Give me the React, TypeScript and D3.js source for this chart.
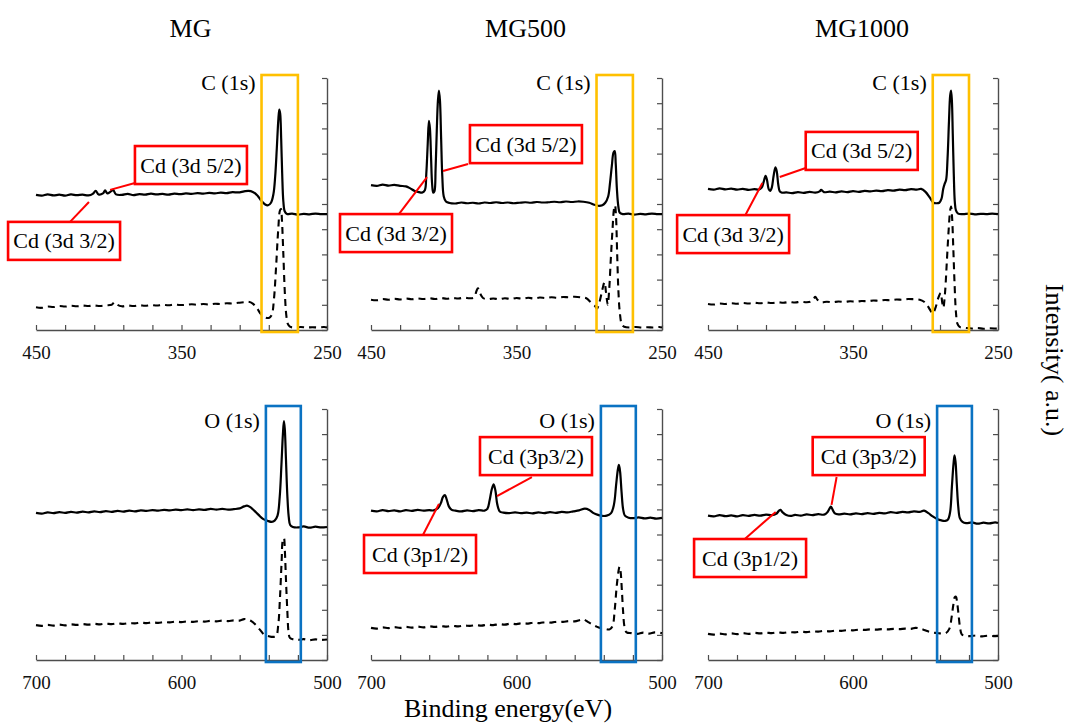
import React, { useEffect, useRef } from 'react'
import * as d3 from 'd3'

// sample names (column titles)
const samples = ['MG', 'MG500', 'MG1000']

// tick labels
const cTicks = [450, 350, 250]
const oTicks = [700, 600, 500]

// highlighted windows (eV)
const cWindow = [295, 270]
const oWindow = [542, 518]

// C 1s region spectra [binding energy, intensity a.u.]
const mgC = [[450,5.36],[446,5.33],[442,5.38],[438,5.34],[434,5.37],[430,5.33],[426,5.38],[422,5.35],[418,5.37],[414,5.34],[411,5.4],[409,5.52],[407,5.38],[404,5.42],[402.5,5.54],[401,5.42],[398.5,5.5],[397,5.56],[395,5.38],[391,5.36],[387,5.4],[383,5.35],[379,5.39],[375,5.37],[371,5.41],[367,5.38],[363,5.4],[359,5.37],[355,5.41],[351,5.39],[347,5.42],[343,5.4],[339,5.43],[335,5.41],[331,5.44],[327,5.42],[323,5.45],[319,5.43],[315,5.47],[311,5.46],[307,5.5],[304,5.52],[301,5.48],[298,5.35],[295,5.12],[292.5,4.98],[290.5,4.95],[288.5,5.05],[286.8,5.4],[285.6,6.1],[284.5,7.2],[283.5,8.3],[282.8,8.75],[282.2,8.6],[281.5,7.6],[280.8,6.2],[280,5.1],[279,4.7],[277.5,4.6],[274,4.62],[270,4.58],[266,4.61],[262,4.59],[258,4.62],[254,4.6],[250,4.6]]
const mgCRef = [[450,0.9],[446,0.88],[442,0.93],[438,0.91],[434,0.95],[430,0.93],[426,0.96],[422,0.94],[418,0.97],[414,0.95],[410,0.97],[406,0.95],[402,0.98],[398,1.0],[396,1.1],[394,1.0],[391,0.94],[387,0.97],[383,0.95],[379,0.98],[375,0.96],[371,0.99],[367,0.97],[363,1.0],[359,0.98],[355,1.01],[351,0.99],[347,1.0],[343,1.02],[339,1.0],[335,1.03],[331,1.01],[327,1.04],[323,1.03],[319,1.06],[315,1.05],[311,1.08],[307,1.1],[304,1.12],[301,1.05],[298,0.85],[295,0.6],[292.5,0.5],[290,0.48],[288,0.6],[286.5,1.2],[285,2.5],[283.5,4.0],[282.3,4.75],[281.6,4.8],[281,4.4],[280,3.0],[279,1.5],[278,0.6],[277,0.25],[275.5,0.13],[272,0.1],[268,0.12],[264,0.1],[260,0.11],[256,0.1],[252,0.12],[250,0.1]]

const mg500C = [[450,5.75],[446,5.72],[442,5.77],[438,5.73],[434,5.76],[430,5.72],[426,5.7],[423,5.62],[420,5.52],[417,5.47],[415,5.45],[413,5.55],[412,6.2],[411,7.4],[410.2,8.3],[409.5,8.0],[408.7,6.8],[408,5.8],[407.2,5.45],[406.4,5.5],[405.6,6.4],[404.8,7.9],[404,9.1],[403.3,9.5],[402.6,9.1],[401.8,7.6],[401,6.1],[400,5.3],[398.5,5.1],[396,5.04],[392,5.02],[388,5.06],[384,5.03],[380,5.05],[376,5.02],[372,5.06],[368,5.04],[364,5.07],[360,5.04],[356,5.06],[352,5.03],[348,5.05],[344,5.07],[340,5.05],[336,5.08],[332,5.06],[328,5.07],[324,5.09],[320,5.07],[316,5.1],[312,5.08],[308,5.1],[304,5.09],[300,5.05],[297,4.98],[294,4.93],[291,4.95],[289,5.05],[287,5.3],[285.8,5.8],[284.5,6.5],[283.3,7.05],[282.5,7.1],[281.8,6.6],[281,5.6],[280,4.9],[279,4.65],[277,4.6],[273,4.62],[269,4.58],[265,4.61],[261,4.59],[257,4.62],[253,4.6],[250,4.6]]
const mg500CRef = [[450,1.2],[446,1.18],[442,1.23],[438,1.2],[434,1.24],[430,1.21],[426,1.25],[422,1.22],[418,1.25],[414,1.23],[410,1.26],[406,1.23],[402,1.27],[398,1.24],[394,1.27],[390,1.25],[386,1.28],[382,1.26],[379,1.3],[377.5,1.55],[376.5,1.65],[375,1.45],[373,1.27],[370,1.22],[366,1.25],[362,1.22],[358,1.26],[354,1.23],[350,1.27],[346,1.24],[342,1.28],[338,1.25],[334,1.29],[330,1.27],[326,1.3],[322,1.28],[318,1.31],[314,1.3],[310,1.32],[306,1.3],[302,1.26],[299,1.1],[296,0.95],[294.7,0.85],[293,1.1],[291,1.6],[289.5,1.9],[288.5,1.5],[287.3,1.0],[286.3,1.6],[285.2,2.8],[284,4.0],[283,4.8],[282.3,4.95],[281.6,4.5],[280.8,3.0],[280,1.6],[279,0.7],[277.5,0.2],[276,0.13],[272,0.1],[268,0.12],[264,0.1],[260,0.11],[256,0.1],[252,0.12],[250,0.1]]

const mg1000C = [[450,5.6],[446,5.57],[442,5.62],[438,5.58],[434,5.61],[430,5.57],[426,5.6],[422,5.56],[418,5.59],[415,5.57],[413,5.65],[411.5,5.9],[410.3,6.12],[409.3,5.95],[408.2,5.6],[407.2,5.52],[406,5.65],[404.8,6.1],[403.5,6.45],[402.6,6.3],[401.6,5.8],[400.5,5.5],[399,5.45],[396,5.46],[392,5.43],[388,5.47],[384,5.44],[380,5.48],[376,5.45],[373,5.5],[372,5.56],[370,5.47],[366,5.49],[362,5.46],[358,5.5],[354,5.47],[350,5.51],[346,5.48],[342,5.52],[338,5.5],[334,5.53],[330,5.51],[326,5.55],[322,5.53],[318,5.57],[314,5.55],[310,5.59],[306,5.57],[303,5.6],[300,5.48],[297,5.25],[294.5,5.05],[292.5,5.03],[290.5,5.05],[289,5.2],[287.8,5.6],[286.8,5.8],[285.8,5.95],[284.8,6.8],[283.8,8.3],[283,9.3],[282.4,9.5],[281.8,9.1],[281.2,7.8],[280.5,6.2],[279.8,5.1],[279,4.75],[277.5,4.62],[274,4.6],[270,4.62],[266,4.59],[262,4.61],[258,4.6],[254,4.62],[250,4.6]]
const mg1000CRef = [[450,1.03],[446,1.01],[442,1.05],[438,1.03],[434,1.06],[430,1.04],[426,1.07],[422,1.05],[418,1.08],[414,1.06],[410,1.09],[406,1.07],[402,1.1],[398,1.08],[394,1.11],[390,1.09],[386,1.12],[382,1.1],[379,1.13],[377,1.25],[376,1.32],[374.5,1.2],[372,1.1],[368,1.12],[364,1.1],[360,1.13],[356,1.11],[352,1.14],[348,1.12],[344,1.15],[340,1.14],[336,1.17],[332,1.16],[328,1.19],[324,1.18],[320,1.21],[316,1.2],[312,1.23],[308,1.22],[304,1.2],[301,1.12],[298.5,0.95],[296,0.72],[295,0.65],[293,0.9],[291,1.3],[289.5,1.47],[288.5,1.1],[287.7,0.88],[286.5,1.5],[285.3,2.7],[284,4.0],[283,4.75],[282.4,4.9],[281.7,4.5],[280.8,3.2],[280,1.9],[279,0.7],[278,0.25],[276.5,0.12],[272,0.08],[268,0.06],[264,0.08],[260,0.05],[256,0.07],[252,0.06],[250,0.05]]

// O 1s region spectra
const mgO = [[700,5.86],[696,5.83],[692,5.88],[688,5.85],[684,5.89],[680,5.86],[676,5.9],[672,5.87],[668,5.91],[664,5.88],[660,5.92],[656,5.89],[652,5.93],[648,5.9],[644,5.94],[640,5.91],[636,5.95],[632,5.92],[628,5.96],[624,5.94],[620,5.97],[616,5.95],[612,5.98],[608,5.96],[604,5.99],[600,5.97],[596,6.0],[592,5.97],[588,6.0],[584,5.98],[580,6.02],[576,5.99],[572,6.02],[568,5.99],[564,6.01],[560,6.04],[557,6.12],[555,6.15],[553,6.1],[550,5.95],[547,5.78],[544,5.62],[541,5.55],[538,5.5],[536,5.55],[534,5.75],[532.5,6.5],[531.3,7.8],[530.3,9.0],[529.6,9.52],[529,9.2],[528.2,8.0],[527.3,6.6],[526.3,5.7],[525.3,5.38],[523.5,5.3],[520,5.28],[516,5.32],[512,5.27],[508,5.31],[504,5.28],[500,5.3]]
const mgORef = [[700,1.39],[696,1.36],[692,1.4],[688,1.37],[684,1.41],[680,1.38],[676,1.42],[672,1.4],[668,1.43],[664,1.41],[660,1.44],[656,1.42],[652,1.45],[648,1.43],[644,1.46],[640,1.44],[636,1.47],[632,1.46],[628,1.49],[624,1.47],[620,1.5],[616,1.48],[612,1.51],[608,1.5],[604,1.53],[600,1.51],[596,1.54],[592,1.52],[588,1.55],[584,1.53],[580,1.56],[576,1.54],[572,1.57],[568,1.55],[564,1.58],[560,1.57],[557,1.63],[555,1.62],[552,1.55],[549,1.4],[546,1.2],[543,1.0],[540,0.95],[537.5,0.92],[535,0.95],[533.5,1.4],[532.3,2.5],[531.2,3.9],[530.3,4.8],[529.6,4.85],[529,4.4],[528.2,3.2],[527.3,2.0],[526.4,1.1],[525.5,0.88],[523,0.82],[520,0.8],[516,0.83],[512,0.79],[508,0.82],[504,0.8],[500,0.82]]

const mg500O = [[700,5.95],[696,5.92],[692,5.97],[688,5.93],[684,5.96],[680,5.92],[676,5.97],[672,5.94],[668,5.98],[664,5.95],[660,5.97],[657,5.96],[654,6.05],[652,6.25],[650.5,6.5],[649.2,6.57],[648,6.4],[646.5,6.12],[644.5,5.98],[642,5.95],[638,5.92],[634,5.96],[630,5.93],[626,5.97],[622,5.95],[620,6.02],[618.5,6.35],[617,6.8],[615.7,7.0],[614.5,6.75],[613.2,6.2],[611.5,5.92],[609,5.87],[605,5.85],[601,5.88],[597,5.85],[593,5.87],[589,5.84],[585,5.88],[581,5.85],[577,5.89],[573,5.86],[569,5.9],[565,5.88],[561,5.92],[557,5.96],[553,6.03],[550,5.98],[547,5.85],[544,5.78],[541,5.74],[538,5.75],[535,5.85],[533,6.2],[531.5,7.0],[530.3,7.6],[529.6,7.77],[528.8,7.5],[527.8,6.7],[526.7,6.0],[525.5,5.75],[523,5.67],[520,5.65],[516,5.68],[512,5.64],[508,5.67],[504,5.63],[500,5.66]]
const mg500ORef = [[700,1.28],[696,1.25],[692,1.3],[688,1.27],[684,1.31],[680,1.28],[676,1.32],[672,1.29],[668,1.33],[664,1.3],[660,1.34],[656,1.32],[652,1.35],[648,1.33],[644,1.36],[640,1.34],[636,1.37],[632,1.36],[628,1.39],[624,1.37],[620,1.41],[616,1.39],[612,1.43],[608,1.41],[604,1.45],[600,1.43],[596,1.47],[592,1.45],[588,1.49],[584,1.47],[580,1.51],[576,1.49],[572,1.53],[568,1.52],[564,1.55],[560,1.54],[556,1.6],[554,1.62],[551,1.52],[548,1.42],[545,1.33],[542,1.27],[539,1.24],[536,1.22],[534,1.35],[532.5,2.0],[531.2,2.9],[530,3.5],[529.2,3.72],[528.5,3.55],[527.6,2.8],[526.7,1.9],[525.7,1.3],[524.3,1.1],[521,1.07],[517,1.04],[513,1.09],[509,1.05],[505,1.1],[500,1.07]]

const mg1000O = [[700,5.75],[696,5.72],[692,5.77],[688,5.73],[684,5.76],[680,5.72],[676,5.77],[672,5.74],[668,5.78],[664,5.75],[660,5.79],[656,5.77],[653,5.82],[651,5.95],[650,5.98],[648.5,5.88],[646,5.78],[643,5.74],[640,5.78],[636,5.75],[632,5.8],[628,5.77],[624,5.81],[620,5.79],[617.5,5.9],[616,6.05],[615.2,6.11],[614,5.98],[612.5,5.84],[610,5.8],[606,5.83],[602,5.8],[598,5.84],[594,5.81],[590,5.85],[586,5.82],[582,5.86],[578,5.84],[574,5.89],[570,5.86],[566,5.9],[562,5.88],[558,5.92],[554,5.9],[551,5.95],[548,5.85],[545,5.72],[542,5.62],[539,5.56],[536.5,5.54],[534.5,5.6],[533,5.9],[531.8,6.9],[530.7,7.8],[530,8.15],[529.3,7.9],[528.4,7.0],[527.4,6.1],[526.3,5.65],[524.5,5.5],[522,5.45],[518,5.48],[514,5.43],[510,5.47],[506,5.44],[502,5.48],[500,5.46]]
const mg1000ORef = [[700,1.04],[696,1.01],[692,1.05],[688,1.02],[684,1.06],[680,1.03],[676,1.07],[672,1.04],[668,1.08],[664,1.06],[660,1.09],[656,1.07],[652,1.1],[648,1.08],[644,1.11],[640,1.1],[636,1.13],[632,1.11],[628,1.14],[624,1.13],[620,1.16],[616,1.14],[612,1.17],[608,1.16],[604,1.19],[600,1.18],[596,1.21],[592,1.2],[588,1.22],[584,1.21],[580,1.23],[576,1.22],[572,1.24],[568,1.23],[564,1.25],[560,1.24],[557,1.28],[555,1.27],[551,1.2],[547,1.12],[543,1.08],[540,1.06],[536,1.07],[533.5,1.25],[532,1.7],[530.8,2.2],[529.8,2.5],[529,2.52],[528.2,2.3],[527.2,1.8],[526.2,1.3],[525,1.02],[523,0.97],[519,0.95],[515,0.98],[511,0.94],[507,0.97],[503,0.95],[500,0.96]]

// peak labels: box corner, leader start, leader end in [eV, intensity]
const cNotes = [
  [
    { text: 'Cd (3d 5/2)', box: [382, 7.3], from: [382, 5.83], to: [399.1, 5.56] },
    { text: 'Cd (3d 3/2)', box: [469.2, 4.29], from: [426.6, 4.29], to: [413.6, 5.08] },
  ],
  [
    { text: 'Cd (3d 5/2)', box: [382, 8.13], from: [383.3, 6.59], to: [400.5, 6.31] },
    { text: 'Cd (3d 3/2)', box: [471.3, 4.6], from: [430.8, 4.6], to: [411.5, 6.07] },
  ],
  [
    { text: 'Cd (3d 5/2)', box: [382.6, 7.86], from: [382.6, 6.43], to: [400.5, 6.07] },
    { text: 'Cd (3d 3/2)', box: [471.3, 4.56], from: [424.2, 4.56], to: [412.5, 5.83] },
  ],
]
const oNotes = [
  [],
  [
    { text: 'Cd (3p3/2)', box: [625.1, 8.88], from: [589.4, 7.29], to: [613.4, 6.53] },
    { text: 'Cd (3p1/2)', box: [704.8, 4.98], from: [664.3, 4.98], to: [653.3, 6.22] },
  ],
  [
    { text: 'Cd (3p3/2)', box: [627.8, 8.88], from: [611.3, 7.29], to: [614.8, 6.18] },
    { text: 'Cd (3p1/2)', box: [709.6, 4.82], from: [674.6, 4.82], to: [653.3, 5.9] },
  ],
]

const cSolid = [mgC, mg500C, mg1000C]
const cDash = [mgCRef, mg500CRef, mg1000CRef]
const oSolid = [mgO, mg500O, mg1000O]
const oDash = [mgORef, mg500ORef, mg1000ORef]

const FONT = "'Liberation Serif', 'Times New Roman', serif"

export default function App() {
  const svgRef = useRef(null)

  useEffect(() => {
    drawChart()
  }, [])

  const drawChart = () => {
    const svg = d3.select(svgRef.current)
    svg.selectAll('*').remove()
    svg.attr('width', 1068).attr('height', 724)

    const colX = [36, 371, 708]
    const colW = [291, 291, 290]

    const rows = [
      { top: 78, h: 252, domain: [450, 250], ticks: cTicks, win: cWindow, color: '#FFC000', label: 'C (1s)', solid: cSolid, dash: cDash, notes: cNotes },
      { top: 409, h: 251, domain: [700, 500], ticks: oTicks, win: oWindow, color: '#0A72C2', label: 'O (1s)', solid: oSolid, dash: oDash, notes: oNotes },
    ]

    //column titles
    samples.forEach((s, i) => {
      svg.append('text')
        .attr('x', colX[i] + colW[i] / 2 + 9).attr('y', 37)
        .attr('text-anchor', 'middle')
        .attr('font-family', FONT).attr('font-size', 26)
        .text(s)
    })

    rows.forEach(row => {
      samples.forEach((s, i) => {
        const g = svg.append('g').attr('transform', `translate(${colX[i]},${row.top})`)
        const x = d3.scaleLinear().domain(row.domain).range([0, colW[i]])
        const y = d3.scaleLinear().domain([0, 10]).range([row.h, 0])

        // bottom axis, ticks pointing up
        const xAxis = g.append('g').attr('transform', `translate(0,${row.h})`)
          .call(d3.axisBottom(x)
            .tickValues(d3.range(row.domain[0], row.domain[1] - 1, -20))
            .tickSizeInner(-5).tickSizeOuter(0).tickPadding(16)
            .tickFormat(d => row.ticks.includes(d) ? String(d) : ''))
        // right axis, ticks pointing left
        const yAxis = g.append('g').attr('transform', `translate(${colW[i]},0)`)
          .call(d3.axisRight(y).tickValues(d3.range(0, 11)).tickSizeInner(-5).tickSizeOuter(0).tickFormat(() => ''))

        ;[xAxis, yAxis].forEach(a => {
          a.select('.domain').attr('stroke', '#4d4d4d').attr('stroke-width', 1.4)
          a.selectAll('.tick line').attr('stroke', '#4d4d4d').attr('stroke-width', 1.2)
          a.selectAll('.tick text').attr('font-family', FONT).attr('font-size', 19).attr('fill', '#111')
        })

        const line = d3.line().x(d => x(d[0])).y(d => y(d[1])).curve(d3.curveCatmullRom.alpha(0.5))

        g.append('path').datum(row.dash[i])
          .attr('fill', 'none').attr('stroke', '#000').attr('stroke-width', 2.1)
          .attr('stroke-dasharray', '7,5').attr('d', line)
        g.append('path').datum(row.solid[i])
          .attr('fill', 'none').attr('stroke', '#000').attr('stroke-width', 2.2)
          .attr('d', line)

        // highlighted window
        g.append('rect')
          .attr('x', x(row.win[0])).attr('y', -3)
          .attr('width', x(row.win[1]) - x(row.win[0])).attr('height', row.h + 5)
          .attr('fill', 'none').attr('stroke', row.color).attr('stroke-width', 2.6)

        g.append('text')
          .attr('x', x(row.win[0]) - 6).attr('y', row === rows[0] ? 12 : 19)
          .attr('text-anchor', 'end')
          .attr('font-family', FONT).attr('font-size', 22)
          .text(row.label)

        // peak annotations
        row.notes[i].forEach(n => {
          g.append('line')
            .attr('x1', x(n.from[0])).attr('y1', y(n.from[1]))
            .attr('x2', x(n.to[0])).attr('y2', y(n.to[1]))
            .attr('stroke', '#FF0000').attr('stroke-width', 2)
          g.append('rect')
            .attr('x', x(n.box[0])).attr('y', y(n.box[1]))
            .attr('width', 112).attr('height', 38)
            .attr('fill', '#fff').attr('stroke', '#FF0000').attr('stroke-width', 2.6)
          g.append('text')
            .attr('x', x(n.box[0]) + 56).attr('y', y(n.box[1]) + 26.5)
            .attr('text-anchor', 'middle')
            .attr('font-family', FONT).attr('font-size', 22)
            .text(n.text)
        })
      })
    })

    svg.append('text')
      .attr('x', 508).attr('y', 717)
      .attr('text-anchor', 'middle')
      .attr('font-family', FONT).attr('font-size', 26)
      .text('Binding energy(eV)')

    svg.append('text')
      .attr('transform', 'translate(1046,360) rotate(90)')
      .attr('text-anchor', 'middle')
      .attr('font-family', FONT).attr('font-size', 26)
      .text('Intensity( a.u.)')
  }

  return (
    <div style={{ position: 'absolute', left: 0, top: 0, background: '#fff' }}>
      <svg ref={svgRef}></svg>
    </div>
  )
}
